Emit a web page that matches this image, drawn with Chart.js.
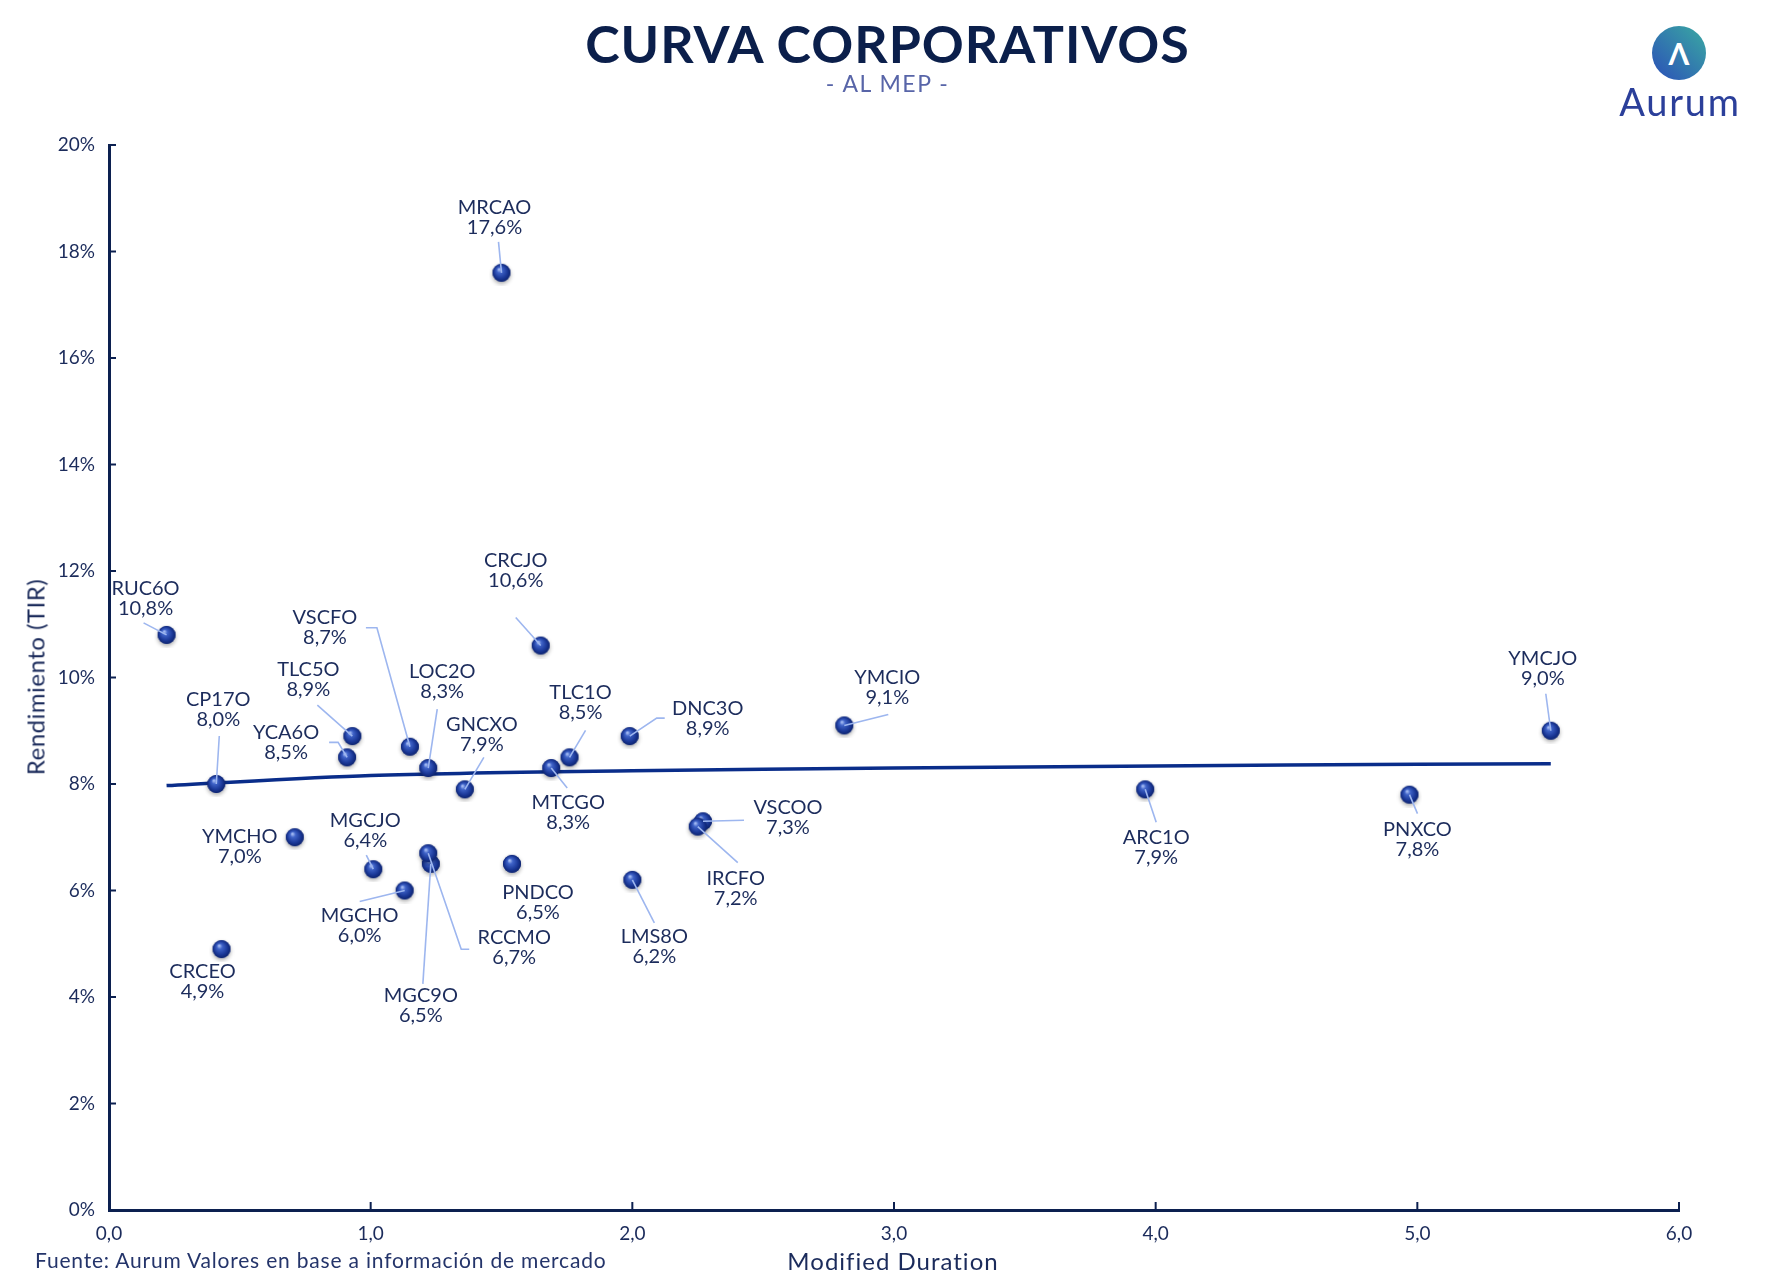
<!DOCTYPE html>
<html>
<head>
<meta charset="utf-8">
<script src="https://cdn.jsdelivr.net/npm/chart.js@4.4.1/dist/chart.umd.min.js"></script>
<style>
  body { margin: 0; background: #fff; }
  #wrap { position: relative; width: 1775px; height: 1288px; font-family: Lato, "Noto Sans", sans-serif; }
  #grafico { position: absolute; left: 0; top: 0; }
  .txt { position: absolute; white-space: nowrap; }
  #titulo { left: 0; width: 1775px; top: 12px; text-align: center; font-size: 52px; font-weight: 700; color: #0b1f4b; letter-spacing: 1px; }
  #subtitulo { left: 0; width: 1775px; top: 69px; text-align: center; font-size: 23px; color: #5865a8; letter-spacing: 1.5px; }
  #logo { left: 1652px; top: 26px; width: 54px; height: 54px; border-radius: 50%; background: linear-gradient(45deg, #2b4fb8, #3aaaa2);
          color: #fff; font-size: 30px; font-weight: 700; text-align: center; line-height: 54px; }
  #marca { left: 1600px; width: 160px; top: 78px; text-align: center; font-size: 38px; color: #2b3f9a; letter-spacing: 1.8px; }
  #fuente { left: 35px; top: 1247px; font-size: 21px; color: #24346a; letter-spacing: 0.8px; }
  #xtitulo { left: 0; width: 1786px; top: 1246px; text-align: center; font-size: 24px; color: #1b2b5b; letter-spacing: 1px; }
  #ytitulo { left: 35px; top: 677px; font-size: 24px; color: #1b2b5b; letter-spacing: 0.5px; transform: translate(-50%, -50%) rotate(-90deg); }
</style>
</head>
<body>
<div id="wrap">
  <canvas id="grafico" width="1775" height="1288"></canvas>
  <div class="txt" id="titulo">CURVA CORPORATIVOS</div>
  <div class="txt" id="subtitulo">- AL MEP -</div>
  <div class="txt" id="logo">Λ</div>
  <div class="txt" id="marca">Aurum</div>
  <div class="txt" id="ytitulo">Rendimiento (TIR)</div>
  <div class="txt" id="xtitulo">Modified Duration</div>
  <div class="txt" id="fuente">Fuente: Aurum Valores en base a información de mercado</div>
</div>
<script>
// bonos, duracion modificada y TIR (%)
const bonos = ['RUC6O', 'CP17O', 'YCA6O', 'TLC5O', 'VSCFO', 'LOC2O', 'GNCXO', 'MRCAO', 'CRCJO',
  'MTCGO', 'TLC1O', 'DNC3O', 'YMCIO', 'YMCJO', 'ARC1O', 'PNXCO', 'VSCOO', 'IRCFO', 'YMCHO',
  'MGCJO', 'MGCHO', 'MGC9O', 'RCCMO', 'PNDCO', 'LMS8O', 'CRCEO'];
const duracion = [0.22, 0.41, 0.91, 0.93, 1.15, 1.22, 1.36, 1.50, 1.65,
  1.69, 1.76, 1.99, 2.81, 5.51, 3.96, 4.97, 2.27, 2.25, 0.71,
  1.01, 1.13, 1.23, 1.22, 1.54, 2.00, 0.43];
const tir = [10.8, 8.0, 8.5, 8.9, 8.7, 8.3, 7.9, 17.6, 10.6,
  8.3, 8.5, 8.9, 9.1, 9.0, 7.9, 7.8, 7.3, 7.2, 7.0,
  6.4, 6.0, 6.5, 6.7, 6.5, 6.2, 4.9];

// linea de tendencia
const tendenciaX = [0.22, 1, 2, 3, 4, 5, 5.51];
const tendenciaY = [7.97, 8.16, 8.25, 8.30, 8.34, 8.37, 8.38];

const xTicks = [0, 1, 2, 3, 4, 5, 6];
const yTicks = [0, 2, 4, 6, 8, 10, 12, 14, 16, 18, 20];

// ubicacion de cada etiqueta respecto de su punto (px): texto y linea guia
const ubicacion = [
  { t: [-21, -46], g: [[-23, -12]] },
  { t: [2, -84], g: [[3, -48]] },
  { t: [-61, -25], g: [[-18, -15], [-9, -15]] },
  { t: [-44, -67], g: [[-35, -31]] },
  { t: [-85, -129], g: [[-44, -119], [-33, -119]] },
  { t: [14, -96], g: [[9, -59]] },
  { t: [17, -65], g: [[19, -32]] },
  { t: [-7, -65], g: [[-3, -31]] },
  { t: [-25, -85], g: [[-25, -28]] },
  { t: [17, 35], g: [[16, 20]] },
  { t: [11, -65], g: [[16, -27]] },
  { t: [78, -28], g: [[35, -18], [27, -18]] },
  { t: [43, -48], g: [[44, -11]] },
  { t: [-8, -72], g: [[-5, -37]] },
  { t: [11, 48], g: [[11, 33]] },
  { t: [8, 35], g: [[8, 19]] },
  { t: [85, -14], g: [[41, -1]] },
  { t: [38, 52], g: [[40, 36]] },
  { t: [-55, -1], g: [] },
  { t: [-8, -49], g: [[-7, -14]] },
  { t: [-45, 25], g: [[-45, 11]] },
  { t: [-10, 132], g: [[-8, 120]] },
  { t: [86, 84], g: [[41, 96], [33, 96]] },
  { t: [26, 29], g: [] },
  { t: [22, 57], g: [[22, 43]] },
  { t: [-19, 22], g: [] }
];

const azulOscuro = '#0c2050';
const fuente = 'Lato, "Noto Sans", sans-serif';

// esfera para los puntos
function crearEsfera() {
  const c = document.createElement('canvas');
  c.width = 26; c.height = 26;
  const g = c.getContext('2d');
  g.save();
  g.shadowColor = 'rgba(0,0,0,0.35)';
  g.shadowBlur = 4;
  g.shadowOffsetY = 2;
  g.beginPath();
  g.arc(13, 13, 9, 0, Math.PI * 2);
  g.fillStyle = '#14308a';
  g.fill();
  g.restore();
  const rg = g.createRadialGradient(10.5, 9.5, 0.5, 13, 13, 9.5);
  rg.addColorStop(0, '#a9bff5');
  rg.addColorStop(0.25, '#3f63c8');
  rg.addColorStop(0.7, '#1a3796');
  rg.addColorStop(1, '#0b2068');
  g.beginPath();
  g.arc(13, 13, 9, 0, Math.PI * 2);
  g.fillStyle = rg;
  g.fill();
  return c;
}

const fmt = v => v.toFixed(1).replace('.', ',');

const etiquetas = {
  id: 'etiquetas',
  afterDatasetsDraw(chart) {
    const ctx = chart.ctx;
    const meta = chart.getDatasetMeta(0);
    ctx.save();
    meta.data.forEach((pt, i) => {
      const u = ubicacion[i];
      if (u.g.length) {
        ctx.beginPath();
        ctx.moveTo(pt.x + u.g[0][0], pt.y + u.g[0][1]);
        for (let k = 1; k < u.g.length; k++) ctx.lineTo(pt.x + u.g[k][0], pt.y + u.g[k][1]);
        ctx.lineTo(pt.x, pt.y);
        ctx.strokeStyle = '#9db6ef';
        ctx.lineWidth = 1.6;
        ctx.stroke();
      }
      ctx.fillStyle = '#1c2c5c';
      ctx.font = '20px ' + fuente;
      ctx.textAlign = 'center';
      ctx.textBaseline = 'middle';
      const tx = pt.x + u.t[0], ty = pt.y + u.t[1];
      ctx.fillText(bonos[i], tx, ty);
      ctx.fillText(fmt(tir[i]) + '%', tx, ty + 20);
    });
    ctx.restore();
  }
};

// marcas de los ejes hacia adentro
const marcas = {
  id: 'marcas',
  afterDraw(chart) {
    const ctx = chart.ctx, a = chart.chartArea;
    const xs = chart.scales.x, ys = chart.scales.y;
    ctx.save();
    ctx.strokeStyle = azulOscuro;
    ctx.lineWidth = 2;
    xTicks.forEach(v => {
      const x = xs.getPixelForValue(v);
      ctx.beginPath(); ctx.moveTo(x, a.bottom); ctx.lineTo(x, a.bottom - 8); ctx.stroke();
    });
    yTicks.forEach(v => {
      const y = ys.getPixelForValue(v);
      ctx.beginPath(); ctx.moveTo(a.left, y); ctx.lineTo(a.left + 7, y); ctx.stroke();
    });
    ctx.restore();
  }
};

const ctx = document.getElementById('grafico').getContext('2d');
const grafico = new Chart(ctx, {
  type: 'scatter',
  data: {
    datasets: [{
      label: 'Bonos',
      data: duracion.map((d, i) => ({ x: d, y: tir[i] })),
      pointStyle: crearEsfera(),
      pointRadius: 9,
      pointHoverRadius: 9
    },
    {
      label: 'Tendencia',
      data: tendenciaX.map((d, i) => ({ x: d, y: tendenciaY[i] })),
      showLine: true,
      borderColor: '#0a2d8a',
      borderWidth: 3.5,
      pointRadius: 0,
      tension: 0.3
    }]
  },
  options: {
    responsive: false,
    animation: false,
    events: [],
    layout: { padding: { left: 0, top: 145, right: 96, bottom: 0 } },
    plugins: { legend: { display: false }, tooltip: { enabled: false } },
    scales: {
      x: {
        min: 0,
        max: 6,
        afterBuildTicks: s => { s.ticks = xTicks.map(v => ({ value: v })); },
        afterFit: s => { s.height = 78; },
        grid: { display: false, drawTicks: false },
        border: { display: true, color: azulOscuro, width: 3 },
        ticks: {
          padding: 12,
          color: '#1b2b5b',
          font: { family: fuente, size: 19 },
          callback: v => fmt(v)
        }
      },
      y: {
        min: 0,
        max: 20,
        afterBuildTicks: s => { s.ticks = yTicks.map(v => ({ value: v })); },
        afterFit: s => { s.width = 109; },
        grid: { display: false, drawTicks: false },
        border: { display: true, color: azulOscuro, width: 3 },
        ticks: {
          padding: 14,
          color: '#1b2b5b',
          font: { family: fuente, size: 19 },
          callback: v => v + '%'
        }
      }
    }
  },
  plugins: [etiquetas, marcas]
});
</script>
</body>
</html>
